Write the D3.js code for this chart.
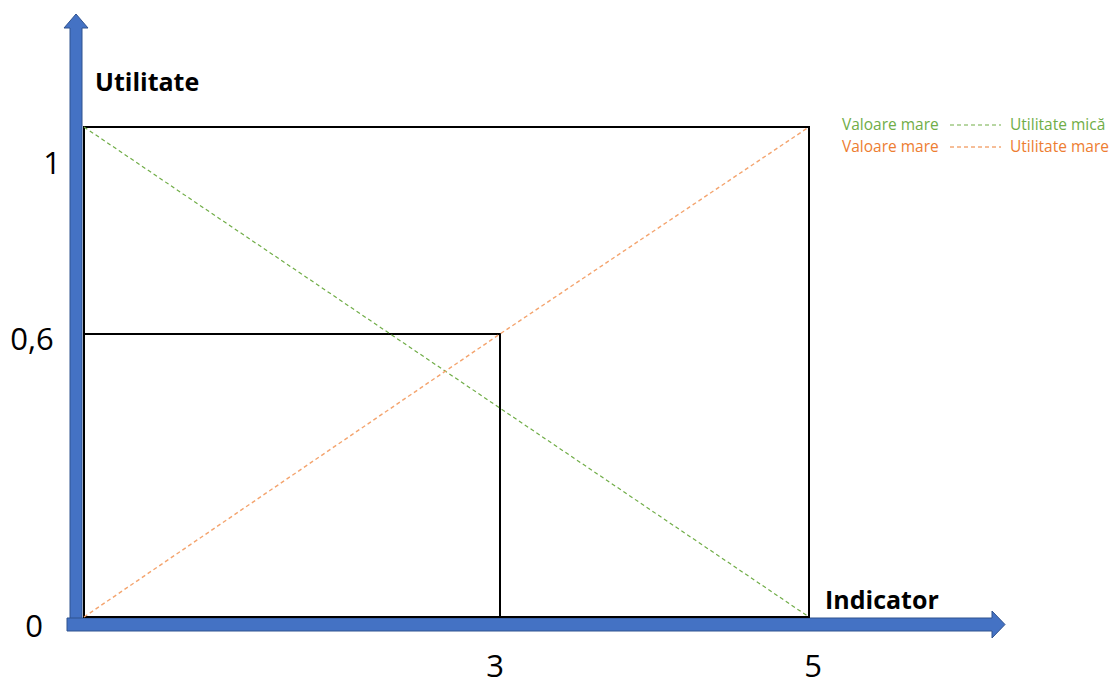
<!DOCTYPE html>
<html>
<head>
<meta charset="utf-8">
<script src="https://cdn.jsdelivr.net/npm/d3@7"></script>
<style>
  html, body { margin: 0; padding: 0; background: #fff; }
  svg { display: block; }
</style>
</head>
<body>
<svg id="chart" width="1115" height="677"></svg>
<script>
// Indicator values and their utility
const xTicks = [3, 5];
const xTickLabels = ["3", "5"];
const yTicks = [0, 0.6, 1];
const yTickLabels = ["0", "0,6", "1"];

// Decreasing utility: high value -> low utility
const greenLine = [[0, 1], [5, 0]];
// Increasing utility: high value -> high utility
const orangeLine = [[0, 0], [3, 0.6], [5, 1]];

// Reference box and threshold box
const outerBox = { x0: 0, x1: 5, y0: 0, y1: 1 };
const innerBox = { x0: 0, x1: 3, y0: 0, y1: 0.6 };

const legendRows = [
  { left: "Valoare mare", right: "Utilitate mică", color: "#70AD47" },
  { left: "Valoare mare", right: "Utilitate mare", color: "#ED7D31" }
];

const svg = d3.select("#chart");

const x = d3.scaleLinear().domain([0, 3, 5]).range([84, 500, 809]);
const y = d3.scaleLinear().domain([0, 0.6, 1]).range([617, 334, 127]);
// Tick label placement along the axes
const yLabel = d3.scaleLinear().domain([0, 0.6, 1]).range([625, 338, 162]);
const yLabelX = d3.scaleLinear().domain([0, 0.6, 1]).range([34, 32, 52]);
const xLabel = d3.scaleLinear().domain([0, 3, 5]).range([84, 495, 813]);

const blue = "#4472C4", blueEdge = "#2F528F";

// Vertical axis arrow
const ax = x(0) - 14, aw = 12;
svg.append("path")
  .attr("d", `M${ax},631 L${ax},28 L${ax - 6},28 L${ax + aw / 2},14 L${ax + aw + 6},28 L${ax + aw},28 L${ax + aw},618 Z`)
  .attr("fill", blue).attr("stroke", blueEdge).attr("stroke-width", 1);

// Horizontal axis arrow
svg.append("path")
  .attr("d", `M67,618 L992,618 L992,611 L1005,624.5 L992,638 L992,631 L67,631 Z`)
  .attr("fill", blue).attr("stroke", blueEdge).attr("stroke-width", 1);

// Boxes
[outerBox, innerBox].forEach(b => {
  svg.append("rect")
    .attr("x", x(b.x0)).attr("y", y(b.y1))
    .attr("width", x(b.x1) - x(b.x0)).attr("height", y(b.y0) - y(b.y1))
    .attr("fill", "none").attr("stroke", "#000").attr("stroke-width", 2);
});

// Utility lines
const line = d3.line().x(d => x(d[0])).y(d => y(d[1]));
svg.append("path").datum(greenLine).attr("d", line)
  .attr("fill", "none").attr("stroke", "#70AD47").attr("stroke-width", 1.2)
  .attr("stroke-dasharray", "4,3");
svg.append("path").datum(orangeLine).attr("d", line)
  .attr("fill", "none").attr("stroke", "#F4A46E").attr("stroke-width", 1.4)
  .attr("stroke-dasharray", "4,3");

// Tick labels
const tickFont = "'Open Sans', sans-serif";
svg.selectAll(".ylab").data(yTicks).enter().append("text")
  .attr("x", d => yLabelX(d)).attr("y", d => yLabel(d))
  .attr("text-anchor", "middle").attr("dominant-baseline", "central")
  .attr("font-family", tickFont).attr("font-size", 31).attr("fill", "#000")
  .text((d, i) => yTickLabels[i]);
svg.selectAll(".xlab").data(xTicks).enter().append("text")
  .attr("x", d => xLabel(d)).attr("y", 665)
  .attr("text-anchor", "middle").attr("dominant-baseline", "central")
  .attr("font-family", tickFont).attr("font-size", 31).attr("fill", "#000")
  .text((d, i) => xTickLabels[i]);

// Axis titles
svg.append("text").attr("x", 95).attr("y", 91)
  .attr("font-family", tickFont).attr("font-weight", "bold").attr("font-size", 25)
  .text("Utilitate");
svg.append("text").attr("x", 825).attr("y", 609)
  .attr("font-family", tickFont).attr("font-weight", "bold").attr("font-size", 25)
  .text("Indicator");

// Legend
const lg = svg.append("g").attr("font-family", tickFont).attr("font-size", 15.5);
legendRows.forEach((r, i) => {
  const cy = 124 + i * 22;
  lg.append("text").attr("x", 842).attr("y", cy).attr("dominant-baseline", "central")
    .attr("fill", r.color).text(r.left);
  lg.append("line").attr("x1", 950).attr("x2", 1001).attr("y1", cy + 1).attr("y2", cy + 1)
    .attr("stroke", r.color).attr("stroke-width", 1).attr("stroke-dasharray", "4,3");
  lg.append("text").attr("x", 1010).attr("y", cy).attr("dominant-baseline", "central")
    .attr("fill", r.color).text(r.right);
});
</script>
</body>
</html>
